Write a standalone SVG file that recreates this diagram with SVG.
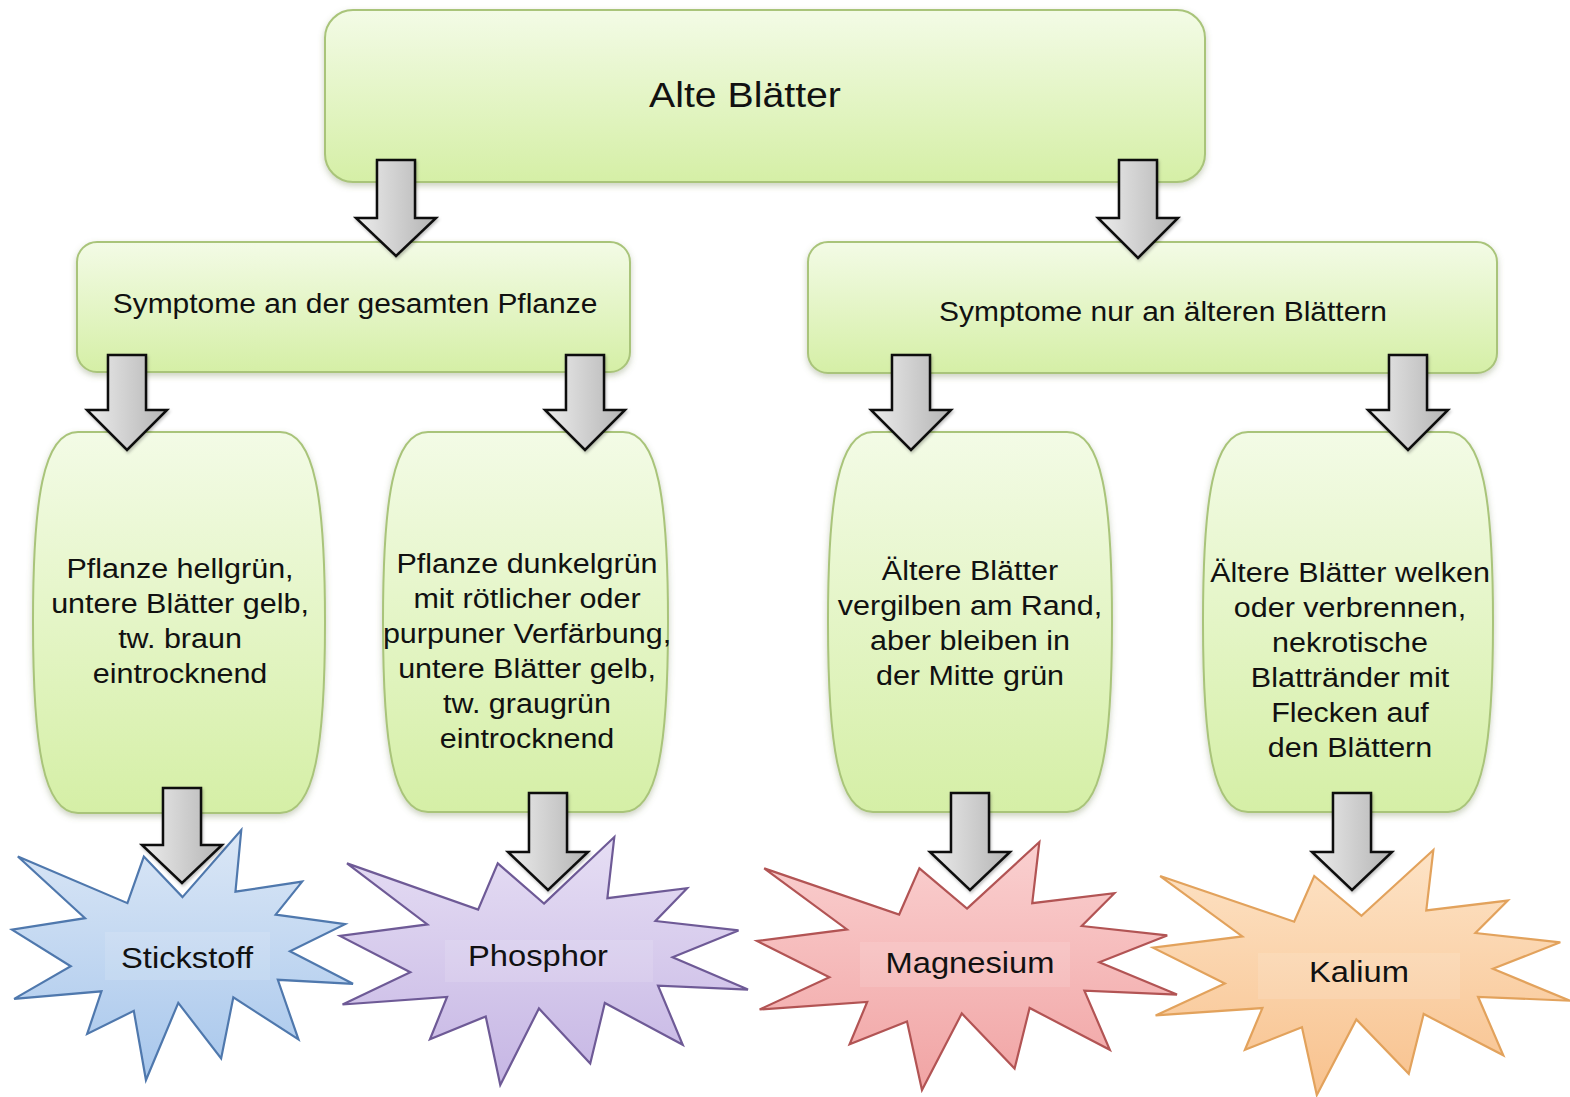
<svg xmlns="http://www.w3.org/2000/svg" width="1570" height="1097" viewBox="0 0 1570 1097">
<style>
.box{fill:url(#gGreen);stroke:#a9c47a;stroke-width:2;filter:url(#sh)}
.arrow{fill:url(#gGray);stroke:#111;stroke-width:2.5;stroke-linejoin:miter;filter:url(#sh2)}
.star{stroke-width:2.2;stroke-linejoin:miter}
.t{font-family:"Liberation Sans",Arial,sans-serif;fill:#111;text-anchor:middle}
.lbl{fill:#fff;opacity:0.12}
</style>
<defs>
<linearGradient id="gGreen" x1="0" y1="0" x2="0" y2="1">
<stop offset="0" stop-color="#f3fbe6"/><stop offset="1" stop-color="#d5efa6"/>
</linearGradient>
<linearGradient id="gGray" x1="0" y1="0" x2="1" y2="0">
<stop offset="0" stop-color="#ececec"/><stop offset="1" stop-color="#b4b4b4"/>
</linearGradient>
<linearGradient id="gBlue" x1="0" y1="0" x2="0" y2="1"><stop offset="0" stop-color="#dbe7f6"/><stop offset="1" stop-color="#a8c7ec"/></linearGradient>
<linearGradient id="gPurple" x1="0" y1="0" x2="0" y2="1"><stop offset="0" stop-color="#e6def4"/><stop offset="1" stop-color="#c6b6e4"/></linearGradient>
<linearGradient id="gRed" x1="0" y1="0" x2="0" y2="1"><stop offset="0" stop-color="#fad0d0"/><stop offset="1" stop-color="#f1a4a4"/></linearGradient>
<linearGradient id="gOrange" x1="0" y1="0" x2="0" y2="1"><stop offset="0" stop-color="#fde3c6"/><stop offset="1" stop-color="#f8c28e"/></linearGradient>
<filter id="sh" x="-10%" y="-10%" width="120%" height="130%"><feDropShadow dx="0" dy="3" stdDeviation="3" flood-color="#6b7d4a" flood-opacity="0.35"/></filter>
<filter id="sh2" x="-20%" y="-20%" width="140%" height="140%"><feDropShadow dx="1" dy="2" stdDeviation="1.5" flood-color="#000" flood-opacity="0.25"/></filter>
<path id="seal" vector-effect="non-scaling-stroke" d="M10800,5800 L14522,0 L14155,5325 L18380,4457 L16702,7315 L21097,8137 L17607,10475 L21600,13290 L16837,12942 L18145,18095 L14020,14457 L13247,19737 L10532,14935 L8485,21600 L7715,15627 L4762,17617 L5667,13937 L135,14587 L3722,11775 L0,8615 L4627,7617 L370,2295 L7312,6320 L8352,2295 Z"/>
</defs>
<rect width="1570" height="1097" fill="#fff"/>

<g id="node-alte">
<rect class="box" x="325" y="10" width="880" height="172" rx="28"/>
<text class="t" font-size="36" transform="translate(745,107) scale(1.09,1)">Alte Blätter</text>
</g>

<g id="node-gesamt">
<rect class="box" x="77" y="242" width="553" height="130" rx="20"/>
<text class="t" font-size="27.5" transform="translate(355,313) scale(1.09,1)">Symptome an der gesamten Pflanze</text>
</g>

<g id="node-aelter">
<rect class="box" x="808" y="242" width="689" height="131" rx="20"/>
<text class="t" font-size="27.5" transform="translate(1163,321) scale(1.09,1)">Symptome nur an älteren Blättern</text>
</g>

<g id="node-s1">
<path class="box" d="M78,432 H280 C315,432 325,500 325,622 C325,745 315,813 280,813 H78 C43,813 33,745 33,622 C33,500 43,432 78,432 Z"/>
<text class="t" font-size="28" transform="translate(180,578) scale(1.09,1)"><tspan x="0" y="0">Pflanze hellgrün,</tspan><tspan x="0" y="35">untere Blätter gelb,</tspan><tspan x="0" y="70">tw. braun</tspan><tspan x="0" y="105">eintrocknend</tspan></text>
</g>

<g id="node-s2">
<path class="box" d="M428,432 H623 C658,432 668,500 668,622 C668,745 658,812 623,812 H428 C393,812 383,745 383,622 C383,500 393,432 428,432 Z"/>
<text class="t" font-size="28" transform="translate(527,573) scale(1.09,1)"><tspan x="0" y="0">Pflanze dunkelgrün</tspan><tspan x="0" y="35">mit rötlicher oder</tspan><tspan x="0" y="70">purpuner Verfärbung,</tspan><tspan x="0" y="105">untere Blätter gelb,</tspan><tspan x="0" y="140">tw. graugrün</tspan><tspan x="0" y="175">eintrocknend</tspan></text>
</g>

<g id="node-s3">
<path class="box" d="M873,432 H1067 C1102,432 1112,500 1112,622 C1112,745 1102,812 1067,812 H873 C838,812 828,745 828,622 C828,500 838,432 873,432 Z"/>
<text class="t" font-size="28" transform="translate(970,580) scale(1.09,1)"><tspan x="0" y="0">Ältere Blätter</tspan><tspan x="0" y="35">vergilben am Rand,</tspan><tspan x="0" y="70">aber bleiben in</tspan><tspan x="0" y="105">der Mitte grün</tspan></text>
</g>

<g id="node-s4">
<path class="box" d="M1248,432 H1448 C1483,432 1493,500 1493,622 C1493,745 1483,812 1448,812 H1248 C1213,812 1203,745 1203,622 C1203,500 1213,432 1248,432 Z"/>
<text class="t" font-size="28" transform="translate(1350,582) scale(1.09,1)"><tspan x="0" y="0">Ältere Blätter welken</tspan><tspan x="0" y="35">oder verbrennen,</tspan><tspan x="0" y="70">nekrotische</tspan><tspan x="0" y="105">Blattränder mit</tspan><tspan x="0" y="140">Flecken auf</tspan><tspan x="0" y="175">den Blättern</tspan></text>
</g>

<g id="node-stickstoff">
<use href="#seal" class="star" fill="url(#gBlue)" stroke="#4f78ad" transform="translate(12,830) scale(0.015787,0.011574)"/>
<rect class="lbl" x="105" y="932" width="165" height="48"/>
<text class="t" font-size="30" transform="translate(187,968) scale(1.09,1)">Stickstoff</text>
</g>

<g id="node-phosphor">
<use href="#seal" class="star" fill="url(#gPurple)" stroke="#6e5a96" transform="translate(340,837) scale(0.018889,0.011481)"/>
<rect class="lbl" x="445" y="940" width="208" height="42"/>
<text class="t" font-size="30" transform="translate(538,966) scale(1.09,1)">Phosphor</text>
</g>

<g id="node-magnesium">
<use href="#seal" class="star" fill="url(#gRed)" stroke="#b25454" transform="translate(757,842) scale(0.019444,0.011481)"/>
<rect class="lbl" x="860" y="942" width="210" height="45"/>
<text class="t" font-size="30" transform="translate(970,973) scale(1.09,1)">Magnesium</text>
</g>

<g id="node-kalium">
<use href="#seal" class="star" fill="url(#gOrange)" stroke="#e2a25c" transform="translate(1153,850) scale(0.019306,0.011343)"/>
<rect class="lbl" x="1258" y="953" width="202" height="46"/>
<text class="t" font-size="30" transform="translate(1359,982) scale(1.09,1)">Kalium</text>
</g>

<g id="connectors">
<path class="arrow" d="M377,160 H415 V218 H436 L396,256 L356,218 H377 Z"/>
<path class="arrow" d="M1119,160 H1157 V218 H1178 L1138,258 L1098,218 H1119 Z"/>
<path class="arrow" d="M108,355 H146 V410 H167 L127,450 L87,410 H108 Z"/>
<path class="arrow" d="M566,355 H604 V410 H625 L585,450 L545,410 H566 Z"/>
<path class="arrow" d="M892,355 H930 V410 H951 L911,450 L871,410 H892 Z"/>
<path class="arrow" d="M1389,355 H1427 V410 H1448 L1408,450 L1368,410 H1389 Z"/>
<path class="arrow" d="M163,788 H201 V845 H222 L182,883 L142,845 H163 Z"/>
<path class="arrow" d="M529,793 H567 V852 H588 L548,890 L508,852 H529 Z"/>
<path class="arrow" d="M951,793 H989 V852 H1010 L970,890 L930,852 H951 Z"/>
<path class="arrow" d="M1333,793 H1371 V852 H1392 L1352,890 L1312,852 H1333 Z"/>
</g>
</svg>
